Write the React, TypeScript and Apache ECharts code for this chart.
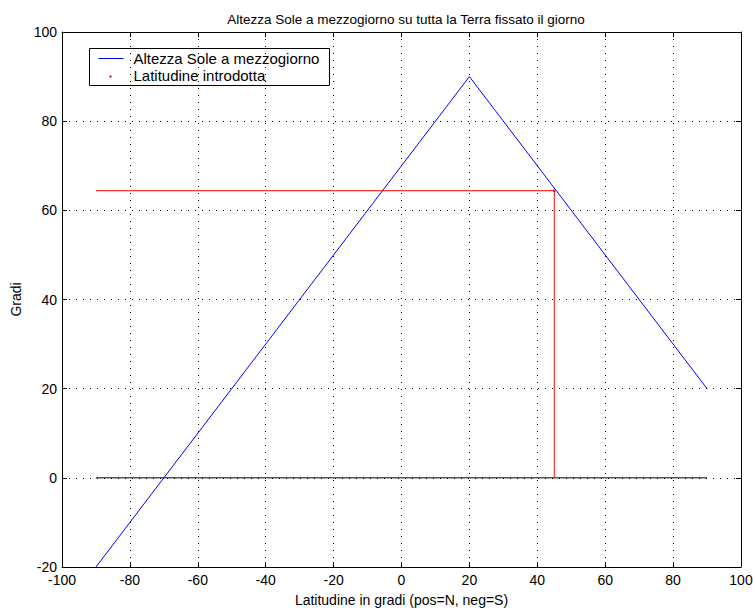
import React, { useEffect, useRef } from "react";
import * as echarts from "echarts";

const sunLat = [-90, 20, 90];
const sunAlt = [-20, 90, 20];
const inputLat = 45;
const inputAlt = 64.4;
const zeroLine = [[-90, 0], [90, 0]];
const title = "Altezza Sole a mezzogiorno su tutta la Terra fissato il giorno";
const legendNames = ["Altezza Sole a mezzogiorno", "Latitudine introdotta"];

const FONT = "Liberation Sans, Arial, sans-serif";

export default function App() {
  const ref = useRef<HTMLDivElement>(null);
  useEffect(() => {
    const chart = echarts.init(ref.current!, null, { renderer: "svg" });
    const axisCommon = {
      type: "value" as const,
      interval: 20,
      axisLine: { onZero: false, lineStyle: { color: "#000", width: 1 } },
      axisTick: { inside: true, length: 5, lineStyle: { color: "#000" } },
      splitLine: { show: false },
    };
    chart.setOption({
      animation: false,
      backgroundColor: "#fff",
      title: {
        text: title,
        left: 401,
        top: 7,
        textAlign: "center",
        textStyle: { fontFamily: FONT, fontSize: 13.5, fontWeight: "normal", color: "#000" },
      },
      grid: { left: 62, top: 32, width: 679, height: 535, outerBoundsMode: "none", containLabel: false },
      xAxis: [
        {
          ...axisCommon,
          min: -100,
          max: 100,
          position: "bottom",
          splitLine: { show: true, lineStyle: { color: "#000", type: [1, 6], width: 1 } },
          axisLabel: { fontFamily: FONT, fontSize: 14, color: "#000", margin: 6 },
          name: "Latitudine in gradi (pos=N, neg=S)",
          nameLocation: "middle",
          nameGap: 26,
          nameTextStyle: { fontFamily: FONT, fontSize: 14, color: "#000" },
        },
        { ...axisCommon, min: -100, max: 100, position: "top", axisLabel: { show: false } },
      ],
      yAxis: [
        {
          ...axisCommon,
          min: -20,
          max: 100,
          position: "left",
          splitLine: { show: true, lineStyle: { color: "#000", type: [1, 6], width: 1 } },
          axisLabel: { fontFamily: FONT, fontSize: 14, color: "#000", margin: 5 },
          name: "Gradi",
          nameLocation: "middle",
          nameGap: 38,
          nameTextStyle: { fontFamily: FONT, fontSize: 14, color: "#000" },
        },
        { ...axisCommon, min: -20, max: 100, position: "right", axisLabel: { show: false } },
      ],
      series: [
        {
          type: "line",
          name: "zero",
          data: zeroLine,
          symbol: "none",
          lineStyle: { color: "#000", width: 1 },
          z: 3,
        },
        {
          type: "line",
          name: legendNames[0],
          data: sunLat.map((x, i) => [x, sunAlt[i]]),
          symbol: "none",
          lineStyle: { color: "#0000ff", width: 1 },
          z: 4,
        },
        {
          type: "line",
          name: "hline",
          data: [[-90, inputAlt], [inputLat, inputAlt]],
          symbol: "none",
          lineStyle: { color: "#ff0000", width: 1 },
          z: 4,
        },
        {
          type: "line",
          name: "vline",
          data: [[inputLat, inputAlt], [inputLat, 0]],
          symbol: "none",
          lineStyle: { color: "#ff0000", width: 1 },
          z: 4,
        },
        {
          type: "scatter",
          name: legendNames[1],
          data: [[inputLat, inputAlt]],
          symbolSize: 3,
          itemStyle: { color: "#ff0000" },
          z: 5,
        },
      ],
      graphic: [
        {
          type: "group",
          left: 89,
          top: 48,
          children: [
            {
              type: "rect",
              shape: { x: 0, y: 0, width: 240, height: 37 },
              style: { fill: "#fff", stroke: "#000", lineWidth: 1 },
            },
            {
              type: "line",
              shape: { x1: 9, y1: 10, x2: 34, y2: 10 },
              style: { stroke: "#0000ff", lineWidth: 1 },
            },
            {
              type: "circle",
              shape: { cx: 21, cy: 28, r: 1.2 },
              style: { fill: "#ff0000" },
            },
            {
              type: "text",
              x: 44,
              y: 10,
              style: { text: legendNames[0], font: "15px " + FONT, fill: "#000", textVerticalAlign: "middle" },
            },
            {
              type: "text",
              x: 44,
              y: 27,
              style: { text: legendNames[1], font: "15px " + FONT, fill: "#000", textVerticalAlign: "middle" },
            },
          ],
        },
      ],
    });
    return () => chart.dispose();
  }, []);
  return <div ref={ref} style={{ width: 753, height: 608, position: "absolute", left: 0, top: 0 }} />;
}
